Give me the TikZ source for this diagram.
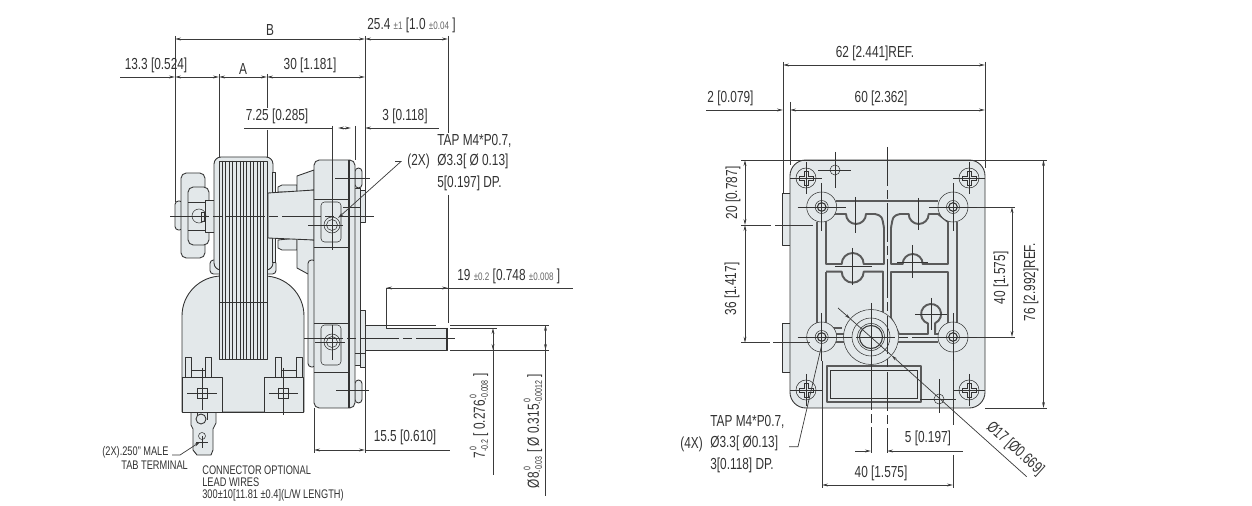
\documentclass[tikz,border=0pt]{standalone}
\usepackage{xcolor}
\usepackage{fontspec}
\setmainfont[FakeStretch=0.74]{Liberation Sans}
\usetikzlibrary{arrows.meta}
\definecolor{plate}{HTML}{E3E8EA}
\definecolor{ink}{HTML}{333333}
\definecolor{dimc}{HTML}{3A3A3A}
\definecolor{tolc}{HTML}{666666}
\definecolor{chan}{HTML}{5A5A5A}
\newcommand{\tol}[1]{{\fontsize{6.2}{7}\selectfont\color{tolc}#1}}
\newcommand{\stk}[2]{\rlap{\raisebox{1.0ex}{\fontsize{5.4}{6}\selectfont\,#1}}\raisebox{-.35ex}{\fontsize{5.4}{6}\selectfont #2}}
\tikzset{
  body/.style={fill=plate, draw=ink, line width=0.5pt, line join=round},
  thin/.style={draw=ink, line width=0.3pt},
  ext/.style={draw=dimc, line width=0.4pt},
  dimline/.style={ext, {Stealth[length=3.4pt,width=1.6pt]}-{Stealth[length=3.4pt,width=1.6pt]}},
  tipend/.style={ext, -{Stealth[length=3.4pt,width=1.6pt]}},
  tipstart/.style={ext, {Stealth[length=3.4pt,width=1.6pt]}-},
  cl/.style={draw=ink, line width=0.35pt, dash pattern=on 22pt off 2.5pt on 5pt off 2.5pt},
  cross/.style={draw=ink, line width=0.35pt},
  channel/.style={draw=chan, line width=1.1pt, line join=round},
  lab/.style={inner sep=0pt, text=ink, font=\fontsize{9.1}{11}\selectfont},
  labs/.style={inner sep=0pt, text=ink, font=\fontsize{7.1}{9}\selectfont},
}
\begin{document}
\begin{tikzpicture}[x=0.02cm,y=-0.02cm]
  \useasboundingbox[fill=white] (0,0) rectangle (1252,506);

  % side view, motor
  \draw[body] (182,316) arc[start angle=180,end angle=270,radius=40] -- (264,276)
     arc[start angle=270,end angle=360,radius=40] -- (304,412) -- (182,412) -- cycle;
  \draw[body] (191,412) -- (191,425) -- (193,429) -- (193,450) -- (197,455) -- (211,455) -- (213,450)
     -- (213,429) -- (216,423) -- (216,412);
  \draw[thin] (197,412) -- (197,420) (207,412) -- (207,420);
  \draw[body] (201,419) circle (5);
  \foreach \px in {185,205,275,296} \draw[body] (\px,357) rectangle ++(6,20);
  \draw[thin] (191,370) -- (205,370) (281,370) -- (296,370);
  \draw[body] (182,377) rectangle (222,412);
  \draw[body] (264,377) rectangle (303.5,412);
  \draw[thin] (222,412) -- (264,412);
  \draw[thin, fill=plate] (197,388) rectangle (207,398);
  \draw[thin, fill=plate] (278,388) rectangle (288,398);
  \draw[cross] (187,393) -- (217,393) (202,368) -- (202,410);
  \draw[cross] (269,393) -- (298,393) (283,368) -- (283,415);
  \draw[thin] (202,436) circle (3.5);
  \draw[cross] (196,442) -- (208,442) (202,436) -- (202,448);

  \draw[body,rounded corners=2pt] (175,201) rectangle (183,230);
  \draw[body,rounded corners=3pt] (181,173) rectangle (205,258);
  \draw[body,rounded corners=3pt] (188,187) rectangle (209,245);
  \draw[thin] (188,202) -- (205,202) (188,230) -- (205,230);
  \draw[body] (205,200) rectangle (218,232);
  \draw[thin] (199,216) circle (7);
  \draw[thin] (201,212) rectangle (204,221);

  \draw[body,rounded corners=2pt] (210,260) rectangle (276,274);
  \draw[body,rounded corners=4pt] (214,157) rectangle (273,270);
  \draw[body] (272,172) rectangle (275,262);
  \draw[body,fill=plate] (219,161) rectangle (267,359);
  \foreach \lx in {222,225,229,232,236,240,243,246,250,253,257,260,263}
    \draw[thin] (\lx,161) -- (\lx,359);
  \draw[thin] (219,302) -- (267,302);

  % side view, gearbox
  \draw[body] (278,192) -- (278,187) -- (282,185) -- (297,185) -- (297,192) -- cycle;
  \draw[body] (278,240) -- (278,248) -- (282,250) -- (297,250) -- (297,238) -- cycle;
  \draw[body] (297,192) -- (297,176) -- (314,170) -- (314,190) -- cycle;
  \draw[body] (297,238) -- (297,268) -- (308,274) -- (314,274) -- (314,240) -- cycle;
  \draw[body] (268,193) -- (314,190) -- (314,240) -- (268,238) -- cycle;
  \draw[body,rounded corners=2pt] (308,260) rectangle (316,367);
  \draw[body,rounded corners=2pt] (355,168) rectangle (362,188);
  \draw[body,rounded corners=2pt] (355,380) rectangle (362,403);
  \draw[body] (360,190) rectangle (365,222);
  \draw[body] (360,310) rectangle (365,367);
  \draw[body] (354,188) rectangle (360.5,365);
  \draw[body,rounded corners=3pt] (314,160) rectangle (355,408);
  \draw[thin, line width=0.6pt] (349,160) -- (349,408);
  \draw[thin] (314,199) -- (349,199) (314,247) -- (349,247) (314,323) -- (349,323) (314,372) -- (349,372);
  \draw[body] (365,325) -- (386,325) -- (386,328) -- (447,328) -- (447,350) -- (365,350) -- cycle;
  \draw[draw=ink, line width=1.1pt] (447,328) -- (447,350);
  \draw[thin] (355,353) -- (365,353);
  \foreach \hy/\sy in {225/202,342/325} {
    \draw[thin,rounded corners=2pt] (321,\sy) rectangle ++(20,40);
    \draw[thin] (332,\hy) circle (8) (332,\hy) circle (5.5);
  }
  \draw[cross] (308,225) -- (343,225) (332,205) -- (332,250);
  \draw[cross] (315,342) -- (345,342) (332,325) -- (332,360);
  \draw[cross] (335,178) -- (370,178) (336,390) -- (369,390) (343,207) -- (360,207);
  \draw[cl] (170,216) -- (374,216);
  \draw[cl] (304,338) -- (456,338);

  % side view, dimensions
  \draw[ext] (175,36) -- (175,202) (219,74) -- (219,157);
  \draw[ext] (267,74) -- (267,108) (267,130) -- (267,157);
  \draw[ext,line width=0.55pt] (365,36) -- (365,222);
  \draw[ext] (365,367) -- (365,453) (314,408) -- (314,453);
  \draw[ext] (448,36) -- (448,133) (448,195) -- (448,323);
  \draw[ext] (332,126) -- (332,215) (355,126) -- (355,160);
  \draw[dimline] (175,39) -- (365,39);
  \draw[dimline] (365,39) -- (448,39);
  \draw[tipend] (120,77) -- (175,77);
  \draw[dimline] (175,77) -- (219,77);
  \draw[dimline] (219,77) -- (267,77);
  \draw[dimline] (267,77) -- (365,77);
  \draw[ext] (244,128) -- (332,128);
  \draw[dimline] (338,128) -- (351,128);
  \draw[tipstart] (365,128) -- (439,128);
  \draw[tipstart] (386,288) -- (573,288);
  \draw[tipend] (386,288) -- (448,288);
  \draw[ext] (386,288) -- (386,325) -- (436,325) (450,325) -- (549,325);
  \draw[ext] (450,328) -- (497,328) (450,350) -- (549,350);
  \draw[tipstart] (493,328) -- (493,475);
  \draw[tipend] (493,345) -- (493,350);
  \draw[tipstart] (545.5,325) -- (545.5,496);
  \draw[tipend] (545.5,345) -- (545.5,350);
  \draw[dimline] (314,450) -- (365,450);
  \draw[ext] (365,450) -- (450,450);
  \draw[tipend] (395,161.5) -- (401,161.5) -- (338,218);
  \draw[tipend] (172,455) -- (180,455) -- (200,442);

  \node[lab] (lb) at (270,30) {B};
  \node[lab,anchor=west] (ls) at (367,25.5) {25.4 \tol{±1} [1.0 \tol{±0.04} ]};
  \node[lab] (la) at (156,65) {13.3 [0.524]};
  \node[lab] (lc) at (243,69) {A};
  \node[lab] (ld) at (310,65) {30 [1.181]};
  \node[lab] (le) at (277,116) {7.25 [0.285]};
  \node[lab] (lf) at (405,116) {3 [0.118]};
  \node[lab,anchor=west] (lg1) at (437,141) {TAP M4*P0.7,};
  \node[lab,anchor=west] (lg2) at (407,161) {(2X)};
  \node[lab,anchor=west] (lg3) at (437,161) {Ø3.3[ Ø 0.13]};
  \node[lab,anchor=west] (lg4) at (437,183) {5[0.197] DP.};
  \node[lab,anchor=west] (lh) at (457,276) {19 \tol{±0.2} [0.748 \tol{±0.008} ]};
  \node[lab] (li) at (405,437) {15.5 [0.610]};
  \node[lab,rotate=90] (lj) at (479,416) {7\stk{0}{-0.2} [ 0.276\stk{0}{-0.008} ]};
  \node[lab,rotate=90] (lk) at (533,431) {Ø8\stk{0}{-0.03} [ Ø 0.315\stk{0}{-0.0012} ]};
  \node[labs,anchor=west] (lm) at (102,452) {(2X).250" MALE};
  \node[labs,anchor=west] (ln) at (121,465) {TAB TERMINAL};
  \node[labs,anchor=west] (lo) at (202,470) {CONNECTOR OPTIONAL};
  \node[labs,anchor=west] (lp) at (202,482) {LEAD WIRES};
  \node[labs,anchor=west] (lq) at (202,495) {300±10[11.81 ±0.4](L/W LENGTH)};

  % front view, plate
  \draw[body] (782.7,193) rectangle (790,245);
  \draw[body] (782.7,323) rectangle (790,372);
  \draw[body,rounded corners=9pt] (790,160) rectangle (985,408);
  \draw[channel] (817,222) -- (817,325);
  \draw[channel] (836,201) -- (938,201);
  \draw[channel] (956.7,222) -- (956.7,325);
  \draw[channel] (826,214) -- (846,214) arc[start angle=180,end angle=0,radius=10] -- (875,214)
     .. controls (882,216) .. (884,228) -- (884,264) -- (863.7,264) arc[start angle=360,end angle=180,radius=11]
     -- (826,264) -- cycle;
  \draw[channel] (891,264) -- (891,228) .. controls (893,216) .. (900,214) -- (908.7,214)
     arc[start angle=180,end angle=0,radius=10] -- (938,214) -- (948,222) -- (948,264) -- (922.7,264)
     arc[start angle=360,end angle=180,radius=10] -- cycle;
  \draw[channel] (826,271.7) -- (841.7,271.7) arc[start angle=180,end angle=0,radius=11] -- (883,271.7) -- (883,312);
  \draw[channel] (826,271.7) -- (826,328) -- (842,328);
  \draw[channel] (891,318) -- (891,271.7) -- (948,271.7) -- (948,325);
  \draw[channel] (899,334) -- (928,334) -- (928,323.5) arc[start angle=108,end angle=426,radius=10] -- (935,334) -- (942,334);
  \draw[channel] (891,318) -- (899,334);
  \draw[channel] (890,341.7) -- (938,341.7);
  \draw[channel] (836,334) -- (845,334) (836,341.7) -- (845,341.7);
  \draw[channel] (826.7,366) rectangle (920.7,401.7);
  \draw[thin] (830,370) rectangle (917,398);
  \draw[thin,fill=plate] (871,337) circle (27.5);
  \draw[thin] (871,337) circle (19) (871,337) circle (13.5);
  \draw[thin,line width=0.6pt] (871,337) circle (11.5);
  \foreach \bx/\by in {821.7/207,953/207,821.7/337,953/337} {
    \draw[thin,fill=plate] (\bx,\by) circle (15);
    \draw[thin] (\bx,\by) circle (6.5);
    \draw[thin,line width=0.6pt] (\bx,\by) circle (4.3);
    \draw[cross] (\bx-24,\by) -- (\bx+24,\by) (\bx,\by-24) -- (\bx,\by+24);
  }
  \foreach \sx/\sy in {806/178,969/178,806/390,969/390} {
    \draw[thin,fill=plate] (\sx,\sy) circle (10);
    \draw[thin] (\sx-7,\sy-2) -- (\sx-2,\sy-2) -- (\sx-2,\sy-7) -- (\sx+2,\sy-7) -- (\sx+2,\sy-2) -- (\sx+7,\sy-2)
      -- (\sx+7,\sy+2) -- (\sx+2,\sy+2) -- (\sx+2,\sy+7) -- (\sx-2,\sy+7) -- (\sx-2,\sy+2) -- (\sx-7,\sy+2) -- cycle;
    \draw[cross] (\sx-16,\sy) -- (\sx+16,\sy) (\sx,\sy-16) -- (\sx,\sy+16);
  }
  \draw[thin] (835,170) circle (5) (939,399) circle (5);
  \draw[cross] (818,170) -- (851,170) (835,152) -- (835,188);
  \draw[cross] (920,399) -- (956,399) (939,379) -- (939,413);
  \draw[cross] (835,266) -- (872,266) (852.7,248) -- (852.7,285);
  \draw[cross] (855.7,197) -- (855.7,233) (918.7,198) -- (918.7,230);
  \draw[cross] (897,262) -- (928,262) (912.7,245) -- (912.7,278);
  \draw[cross] (915,314) -- (947,314) (931,298) -- (931,330);
  \draw[cross] (871,303) -- (871,371);
  \draw[cl] (887,147) -- (887,453);
  \draw[cl] (871,371) -- (871,450);
  \draw[cl] (800,337) -- (975,337);

  % front view, dimensions
  \draw[ext] (783,62) -- (783,193) (790,102) -- (790,165) (985,62) -- (985,168);
  \draw[dimline] (783,65) -- (985,65);
  \draw[tipend] (706,110) -- (783,110);
  \draw[tipstart] (790,110) -- (806,110);
  \draw[tipend] (806,110) -- (985,110);
  \draw[ext] (741,160) -- (1047,160) (985,408) -- (1047,408);
  \draw[ext] (741,225) -- (771,225) (775,225) -- (813,225);
  \draw[ext] (741,342.7) -- (770,342.7) (773,342.7) -- (810,342.7);
  \draw[dimline] (745,160) -- (745,225);
  \draw[dimline] (745,225) -- (745,342.7);
  \draw[dimline] (1043.5,160) -- (1043.5,408);
  \draw[dimline] (1012,207) -- (1012,337);
  \draw[ext] (977,207) -- (1015,207) (977,337) -- (1015,337);
  \draw[ext] (871,440) -- (871,453) (953,455) -- (953,488) (953,361) -- (953,425) (822,361) -- (822,488);
  \draw[tipend] (855,451) -- (871,451);
  \draw[tipstart] (887,451) -- (963,451);
  \draw[dimline] (822,485) -- (953,485);
  \draw[tipend] (838,308) -- (850.5,319);
  \draw[ext] (850.5,319) -- (891.5,355.4);
  \draw[tipend] (1026.7,476.7) -- (891.5,355.4);
  \draw[ext] (789,446.7) -- (798,446.7) -- (821.7,345);

  \node[lab] (ra) at (875,53) {62 [2.441]REF.};
  \node[lab] (rb) at (730.5,98) {2 [0.079]};
  \node[lab] (rc) at (881,98) {60 [2.362]};
  \node[lab,rotate=90] (rd) at (733,193) {20 [0.787]};
  \node[lab,rotate=90] (re) at (732,289) {36 [1.417]};
  \node[lab,rotate=90] (rf) at (1001,278) {40 [1.575]};
  \node[lab,rotate=90] (rg) at (1031,282) {76 [2.992]REF.};
  \node[lab,anchor=west] (rh) at (710,422) {TAP M4*P0.7,};
  \node[lab,anchor=west] (ri) at (680,444) {(4X)};
  \node[lab,anchor=west] (rj) at (710,443) {Ø3.3[ Ø0.13]};
  \node[lab,anchor=west] (rk) at (710,465) {3[0.118] DP.};
  \node[lab] (rl) at (928,438) {5 [0.197]};
  \node[lab] (rm) at (881,473) {40 [1.575]};
  \node[lab,rotate=-42] (rn) at (1015,449) {Ø17 [Ø0.669]};
\end{tikzpicture}
\end{document}
